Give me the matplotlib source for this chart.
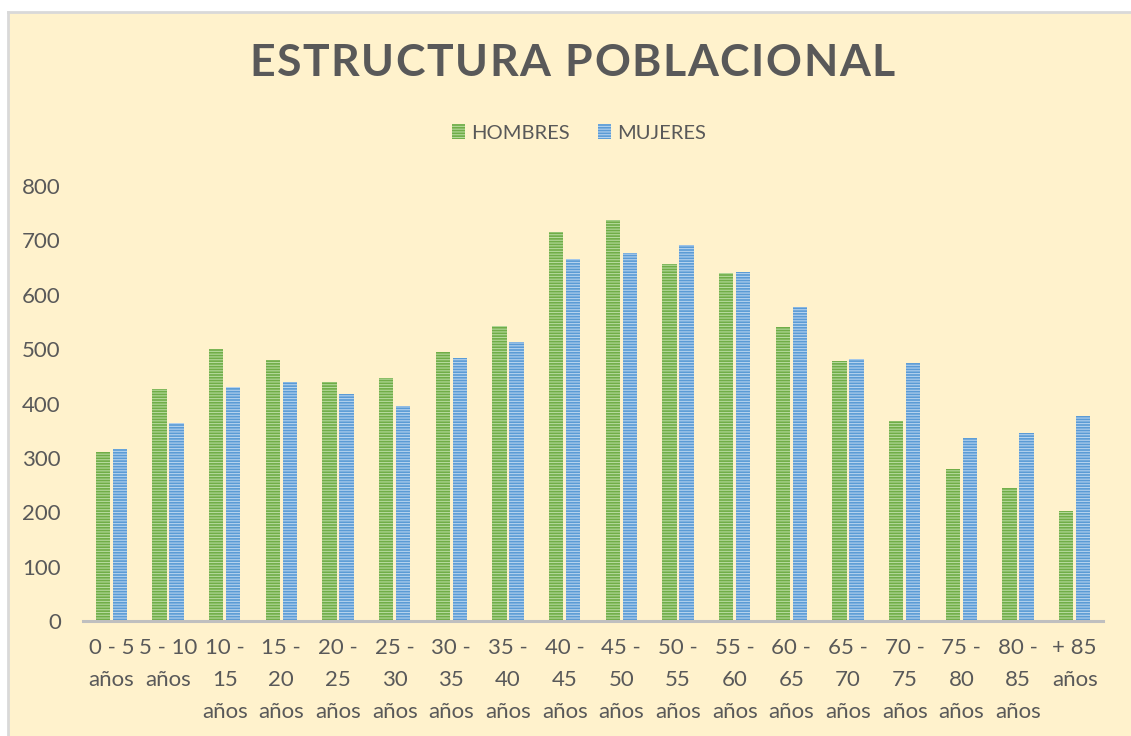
import matplotlib
matplotlib.use('Agg')
import matplotlib.pyplot as plt
import numpy as np
from matplotlib.patches import Rectangle
from matplotlib.lines import Line2D

# datos
grupos = ['0 - 5\naños', '5 - 10\naños', '10 -\n15\naños', '15 -\n20\naños', '20 -\n25\naños',
          '25 -\n30\naños', '30 -\n35\naños', '35 -\n40\naños', '40 -\n45\naños', '45 -\n50\naños',
          '50 -\n55\naños', '55 -\n60\naños', '60 -\n65\naños', '65 -\n70\naños', '70 -\n75\naños',
          '75 -\n80\naños', '80 -\n85\naños', '+ 85\naños']
hombres = [310, 426, 501, 480, 440, 447, 494, 542, 715, 737, 657, 640, 541, 479, 367, 280, 244, 203]
mujeres = [317, 365, 430, 440, 418, 396, 483, 514, 665, 676, 691, 642, 577, 481, 474, 336, 346, 377]
yticks = [0, 100, 200, 300, 400, 500, 600, 700, 800]
titulo = 'ESTRUCTURA POBLACIONAL'

gris = '#595959'
fondo = '#FFF2CC'
plt.rcParams['font.family'] = ['Lato', 'DejaVu Sans']
plt.rcParams['hatch.linewidth'] = 0.8

W, H = 1131, 736
fig = plt.figure(figsize=(W / 100, H / 100), dpi=100)
fig.patch.set_facecolor('white')

# marco del grafico
fig.patches.append(Rectangle((8 / W, 0), 1, 1 - 12 / H, transform=fig.transFigure,
                             facecolor=fondo, edgecolor='none', zorder=-5))
fig.lines.append(Line2D([8 / W, 8 / W], [0, 1 - 12 / H], transform=fig.transFigure, color='#D9D9D9', lw=2, zorder=-4))
fig.lines.append(Line2D([8 / W, 1], [1 - 12 / H, 1 - 12 / H], transform=fig.transFigure, color='#D9D9D9', lw=2, zorder=-4))

ax = fig.add_axes([83 / W, 1 - 621 / H, 1020 / W, (621 - 186) / H])
ax.set_facecolor('none')
ax.set_zorder(2)

x = np.arange(len(grupos))
w = 0.25
b1 = ax.bar(x - 0.15, hombres, w, color='#70AD47', edgecolor='#B5D99C', hatch='------', lw=0, label='HOMBRES')
b2 = ax.bar(x + 0.15, mujeres, w, color='#5B9BD5', edgecolor='#B4D2EE', hatch='------', lw=0, label='MUJERES')

ax.set_xlim(-0.5, len(grupos) - 0.5)
ax.set_ylim(0, 800)
ax.set_yticks(yticks)
ax.set_xticks(x)
ax.set_xticklabels(grupos, linespacing=1.75)
ax.tick_params(axis='y', length=0, pad=16, labelsize=16, labelcolor=gris)
ax.tick_params(axis='x', length=0, pad=12, labelsize=16, labelcolor=gris)
for s in ['top', 'right', 'left']:
    ax.spines[s].set_visible(False)
ax.spines['bottom'].set_color('#BFBFBF')
ax.spines['bottom'].set_linewidth(2.2)

# titulo con espaciado de letras
fig.canvas.draw()
r = fig.canvas.get_renderer()
props = dict(fontsize=32, fontweight='bold', color=gris)
anchos = []
for c in titulo:
    t = fig.text(0, 0, c if c != ' ' else 'n', **props)
    a = t.get_window_extent(r).width
    anchos.append(a * 0.45 if c == ' ' else a)
    t.remove()
objetivo = 645
esp = (objetivo - sum(anchos)) / (len(titulo) - 1)
xpos = 572 - objetivo / 2
for c, a in zip(titulo, anchos):
    if c != ' ':
        fig.text(xpos / W, 1 - 63 / H, c, ha='left', va='center', **props)
    xpos += a + esp

fig.legend(handles=[b1, b2], loc='center', bbox_to_anchor=(579 / W, 1 - 133 / H), ncol=2,
           frameon=False, fontsize=14.5, labelcolor=gris, handlelength=0.65, handleheight=0.7,
           handletextpad=0.3, columnspacing=1.4)

fig.savefig('out.png', dpi=100, facecolor='white')
